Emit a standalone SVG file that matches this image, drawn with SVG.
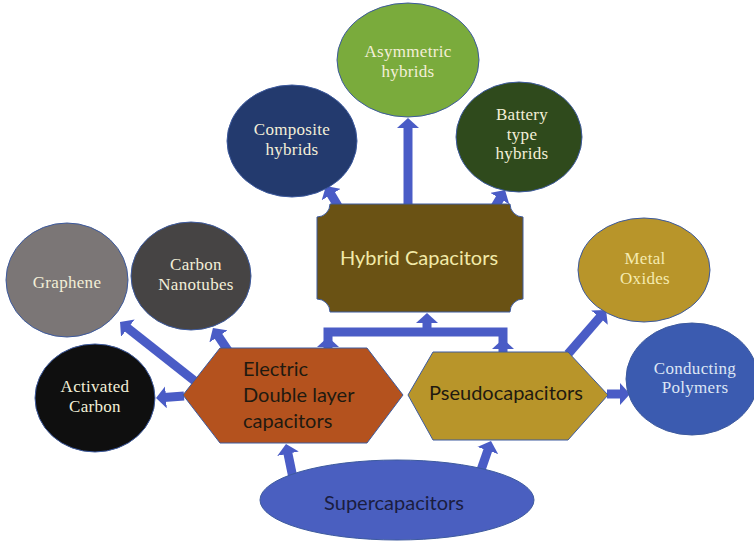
<svg xmlns="http://www.w3.org/2000/svg" width="754" height="541" viewBox="0 0 754 541">
<defs>
<marker id="ah" markerUnits="userSpaceOnUse" markerWidth="10" markerHeight="22" viewBox="0 0 10 22" refX="2" refY="11" orient="auto">
<path d="M0,0 L10,11 L0,22 Z" fill="#4a5cc6"/>
</marker>
<style>
.ell{stroke:#3d5a9e;stroke-width:1}
.ct{font-family:"Liberation Serif","Times New Roman",serif;font-size:17px;text-anchor:middle;fill:#f3efd8;letter-spacing:0.3px}
.st{font-family:Lato,"Open Sans",sans-serif;font-size:20px;fill:#1f1a10}
.conn{fill:none;stroke:#4a5cc6;stroke-width:9;marker-end:url(#ah)}
</style>
</defs>
<rect width="754" height="541" fill="#ffffff"/>

<g id="connectors">
<line class="conn" x1="408" y1="205" x2="408" y2="126"/>
<line class="conn" x1="338" y1="206" x2="330.1" y2="192.9"/>
<line class="conn" x1="493" y1="210" x2="500.9" y2="196.9"/>
<path d="M328,352 V332 H503 V354" fill="none" stroke="#4a5cc6" stroke-width="9"/>
<polygon points="317,347 328,337 339,347" fill="#4a5cc6"/>
<polygon points="492,349 503,339 514,349" fill="#4a5cc6"/>
<line class="conn" x1="427" y1="332" x2="427" y2="321"/>
<line class="conn" x1="196" y1="382" x2="126.3" y2="327"/>
<line class="conn" x1="229" y1="352" x2="217.4" y2="334.7"/>
<line class="conn" x1="184" y1="396" x2="164" y2="397.4"/>
<line class="conn" x1="568" y1="354" x2="600.8" y2="316.1"/>
<line class="conn" x1="607" y1="394" x2="622" y2="394"/>
<line class="conn" x1="293" y1="478" x2="287.6" y2="451.8"/>
<line class="conn" x1="481" y1="470" x2="488.4" y2="448.6"/>
</g>

<g id="asymmetric">
<ellipse class="ell" cx="408" cy="60" rx="71" ry="57" fill="#7aab3c"/>
<text class="ct" x="408" y="57">Asymmetric</text>
<text class="ct" x="408" y="77">hybrids</text>
</g>
<g id="composite">
<ellipse class="ell" cx="292" cy="141" rx="65" ry="56" fill="#233a6e"/>
<text class="ct" x="292" y="135">Composite</text>
<text class="ct" x="292" y="155">hybrids</text>
</g>
<g id="battery">
<ellipse class="ell" cx="519" cy="137" rx="63" ry="55" fill="#2f4a1c"/>
<text class="ct" x="522" y="120">Battery</text>
<text class="ct" x="522" y="140">type</text>
<text class="ct" x="522" y="159">hybrids</text>
</g>
<g id="hybrid">
<path d="M330,204 H510 A13,13 0 0 0 523,217 V299 A13,13 0 0 0 510,312 H330 A13,13 0 0 0 317,299 V217 A13,13 0 0 0 330,204 Z" fill="#6a5214" stroke="#3d5a9e" stroke-width="1"/>
<text class="st" x="419" y="265" text-anchor="middle" style="fill:#f2eaa8">Hybrid Capacitors</text>
</g>
<g id="graphene">
<ellipse class="ell" cx="67" cy="280" rx="61" ry="57" fill="#7b7676"/>
<text class="ct" x="67" y="288">Graphene</text>
</g>
<g id="nanotubes">
<ellipse class="ell" cx="191" cy="276" rx="60" ry="54" fill="#464444"/>
<text class="ct" x="196" y="270">Carbon</text>
<text class="ct" x="196" y="290">Nanotubes</text>
</g>
<g id="activated">
<ellipse class="ell" cx="95" cy="398" rx="60" ry="54" fill="#0f0f0f"/>
<text class="ct" x="95" y="392">Activated</text>
<text class="ct" x="95" y="412">Carbon</text>
</g>
<g id="edlc">
<polygon points="183,395 220,348 367,348 403,395 367,443 220,443" fill="#b4521e" stroke="#3d5a9e" stroke-width="1"/>
<text class="st" x="243" y="376">Electric</text>
<text class="st" x="243" y="402">Double layer</text>
<text class="st" x="243" y="428">capacitors</text>
</g>
<g id="pseudo">
<polygon points="408,395 433,352 568,352 608,395 568,440 433,440" fill="#b8952a" stroke="#3d5a9e" stroke-width="1"/>
<text class="st" x="506" y="400" text-anchor="middle">Pseudocapacitors</text>
</g>
<g id="metal">
<ellipse class="ell" cx="644" cy="270" rx="66" ry="52" fill="#b8952a"/>
<text class="ct" x="645" y="264" style="fill:#f5ebb0">Metal</text>
<text class="ct" x="645" y="284" style="fill:#f5ebb0">Oxides</text>
</g>
<g id="conducting">
<ellipse class="ell" cx="692" cy="379" rx="66" ry="56" fill="#3b5bb0"/>
<text class="ct" x="695" y="374" style="fill:#dde6f5">Conducting</text>
<text class="ct" x="695" y="393" style="fill:#dde6f5">Polymers</text>
</g>
<g id="supercapacitors">
<ellipse class="ell" cx="397" cy="500" rx="137" ry="40" fill="#4a5fc0"/>
<text class="st" x="394" y="510" text-anchor="middle" style="fill:#1a1d40">Supercapacitors</text>
</g>
</svg>
